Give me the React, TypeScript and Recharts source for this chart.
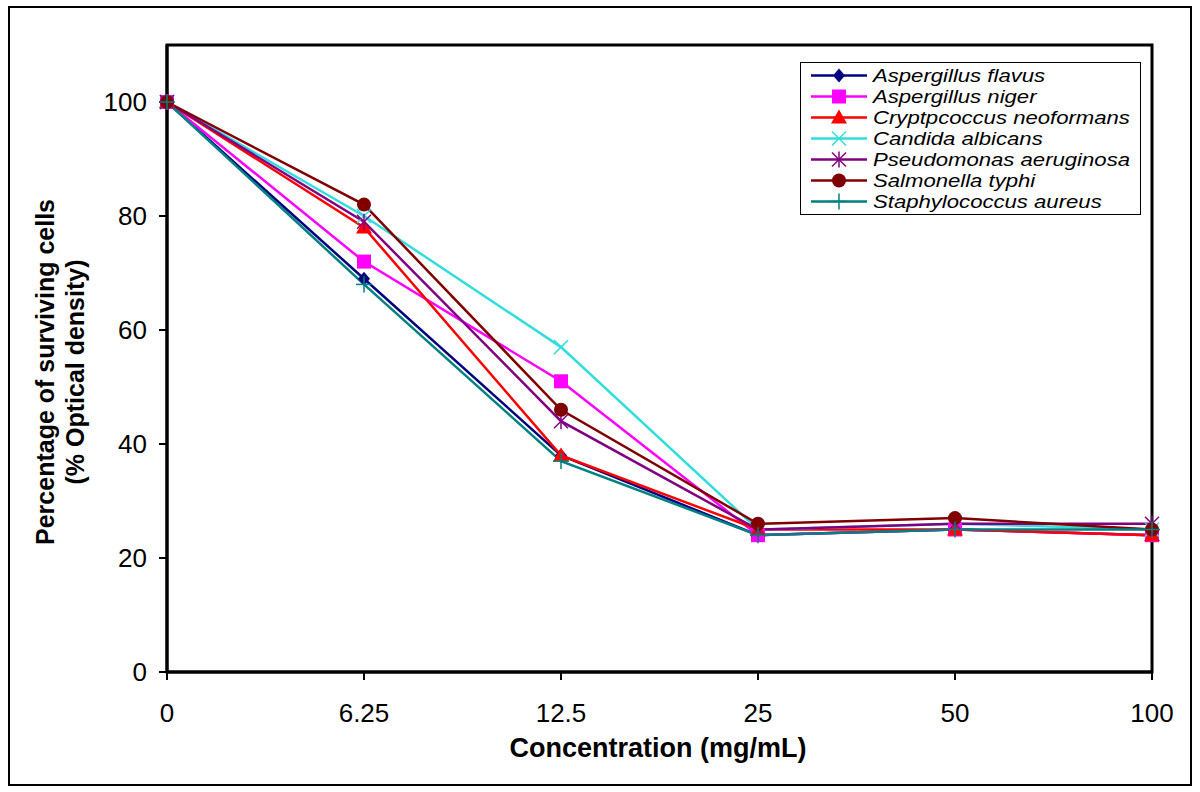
import React from 'react';
import { LineChart, Line, XAxis, YAxis, ReferenceArea } from 'recharts';

const categories = ['0', '6.25', '12.5', '25', '50', '100'];
const yTicks = [0, 20, 40, 60, 80, 100];

const aspergillusFlavus = [100, 69, 38, 24, 25, 24];
const aspergillusNiger = [100, 72, 51, 24, 25, 24];
const cryptococcus = [100, 78, 38, 25, 25, 24];
const candida = [100, 80, 57, 25, 26, 25];
const pseudomonas = [100, 79, 44, 25, 26, 26];
const salmonella = [100, 82, 46, 26, 27, 25];
const staphylococcus = [100, 68, 37, 24, 25, 25];

const seriesNames = [
  'Aspergillus flavus',
  'Aspergillus niger',
  'Cryptpcoccus neoformans',
  'Candida albicans',
  'Pseudomonas aeruginosa',
  'Salmonella typhi',
  'Staphylococcus aureus',
];
const seriesValues = [aspergillusFlavus, aspergillusNiger, cryptococcus, candida, pseudomonas, salmonella, staphylococcus];
const seriesColors = ['#000080', '#FF00FF', '#FF0000', '#33DDDD', '#800080', '#800000', '#008080'];
const seriesMarkers = ['diamond', 'square', 'triangle', 'x', 'star', 'circle', 'plus'];

const data = categories.map((c, i) => {
  const row: any = { conc: c };
  seriesNames.forEach((n, k) => {
    row['s' + k] = seriesValues[k][i];
  });
  return row;
});

const FONT = 'Arial, "Liberation Sans", sans-serif';

function Marker({ type, cx, cy, color }: { type: string; cx: number; cy: number; color: string }) {
  if (cx == null || cy == null) return null;
  switch (type) {
    case 'diamond':
      return <path d={`M${cx},${cy - 7} L${cx + 6},${cy} L${cx},${cy + 7} L${cx - 6},${cy} Z`} fill={color} />;
    case 'square':
      return <rect x={cx - 7} y={cy - 7} width={14} height={14} fill={color} />;
    case 'triangle':
      return <path d={`M${cx},${cy - 8} L${cx + 8},${cy + 6} L${cx - 8},${cy + 6} Z`} fill={color} />;
    case 'x':
      return (
        <g stroke={color} strokeWidth={1.5}>
          <line x1={cx - 7} y1={cy - 7} x2={cx + 7} y2={cy + 7} />
          <line x1={cx - 7} y1={cy + 7} x2={cx + 7} y2={cy - 7} />
        </g>
      );
    case 'star':
      return (
        <g stroke={color} strokeWidth={1.5}>
          <line x1={cx - 7} y1={cy - 7} x2={cx + 7} y2={cy + 7} />
          <line x1={cx - 7} y1={cy + 7} x2={cx + 7} y2={cy - 7} />
          <line x1={cx} y1={cy - 8} x2={cx} y2={cy + 8} />
        </g>
      );
    case 'circle':
      return <circle cx={cx} cy={cy} r={7} fill={color} />;
    case 'plus':
      return (
        <g stroke={color} strokeWidth={1.5}>
          <line x1={cx - 8} y1={cy} x2={cx + 8} y2={cy} />
          <line x1={cx} y1={cy - 8} x2={cx} y2={cy + 8} />
        </g>
      );
    default:
      return null;
  }
}

const makeDot = (k: number) => (props: any) => (
  <Marker key={`d${k}-${props.index}`} type={seriesMarkers[k]} cx={props.cx} cy={props.cy} color={seriesColors[k]} />
);

const LegendBox = () => (
  <svg
    width={341}
    height={153}
    style={{ position: 'absolute', left: 800, top: 62, display: 'block', background: '#fff' }}
  >
    <rect x={0.5} y={0.5} width={340} height={152} fill="#fff" stroke="#000" strokeWidth={1} />
    {seriesNames.map((n, k) => {
      const cy = 13.5 + k * 21;
      return (
        <g key={n}>
          <line x1={11} y1={cy} x2={67} y2={cy} stroke={seriesColors[k]} strokeWidth={2.5} />
          <Marker type={seriesMarkers[k]} cx={39} cy={cy} color={seriesColors[k]} />
          <text
            transform={`translate(73, ${cy}) scale(1.23, 1)`}
            x={0}
            y={0}
            dominantBaseline="central"
            style={{ fontFamily: FONT, fontStyle: 'italic', fontSize: 18, fill: '#000' }}
          >
            {n}
          </text>
        </g>
      );
    })}
  </svg>
);

const YLabel = () => {
  const cy = 372;
  const st = { fontFamily: FONT, fontWeight: 'bold' as const, fontSize: 25, fill: '#000' };
  return (
    <g>
      <text x={45} y={cy} transform={`rotate(-90, 45, ${cy})`} textAnchor="middle" dominantBaseline="central" style={st}>
        Percentage of surviving cells
      </text>
      <text x={75} y={cy} transform={`rotate(-90, 75, ${cy})`} textAnchor="middle" dominantBaseline="central" style={st}>
        (% Optical density)
      </text>
    </g>
  );
};

const XLabel = () => (
  <text x={658} y={748} textAnchor="middle" dominantBaseline="central"
    style={{ fontFamily: FONT, fontWeight: 'bold', fontSize: 27, fill: '#000' }}>
    Concentration (mg/mL)
  </text>
);

export default function App() {
  return (
    <div style={{ position: 'fixed', left: 0, top: 0, width: 1200, height: 792, background: '#fff' }}>
      <div
        style={{
          position: 'absolute',
          left: 8,
          top: 6,
          width: 1184,
          height: 780,
          border: '2px solid #000',
          boxSizing: 'border-box',
        }}
      />
      <div style={{ position: 'absolute', left: 0, top: 0 }}>
        <LineChart width={1200} height={792} data={data} margin={{ top: 45, right: 48, bottom: 0, left: 0 }}>
          <XAxis
            dataKey="conc"
            scale="point"
            padding={{ left: 0, right: 0 }}
            axisLine={{ stroke: '#000', strokeWidth: 3 }}
            tickLine={{ stroke: '#000', strokeWidth: 2 }}
            tickSize={8}
            tickMargin={24}
            tick={{ fontFamily: FONT, fontSize: 26, fill: '#000' }}
            label={<XLabel />}
            height={120}
          />
          <YAxis
            domain={[0, 110]}
            ticks={yTicks}
            width={167}
            axisLine={{ stroke: '#000', strokeWidth: 3 }}
            tickLine={{ stroke: '#000', strokeWidth: 2 }}
            tickSize={8}
            tickMargin={12}
            tick={{ fontFamily: FONT, fontSize: 26, fill: '#000' }}
            label={<YLabel />}
            allowDataOverflow
          />
          <ReferenceArea x1="0" x2="100" y1={0} y2={110} fill="none" stroke="#000" strokeWidth={3} ifOverflow="visible" />
          {seriesNames.map((n, k) => (
            <Line
              key={n}
              name={n}
              dataKey={'s' + k}
              stroke={seriesColors[k]}
              strokeWidth={2.5}
              dot={makeDot(k)}
              activeDot={false}
              isAnimationActive={false}
            />
          ))}
        </LineChart>
      </div>
      <LegendBox />
    </div>
  );
}
